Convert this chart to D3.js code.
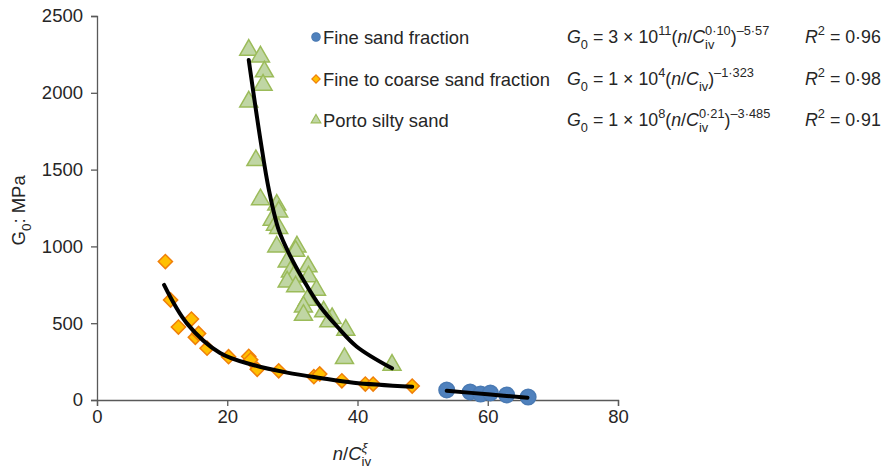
<!DOCTYPE html>
<html>
<head>
<meta charset="utf-8">
<script src="https://cdn.jsdelivr.net/npm/d3@7"></script>
<style>
  body { margin: 0; background: #fff; }
  text { font-family: "Liberation Sans", Arial, sans-serif; fill: #262626; }
</style>
</head>
<body>
<div id="chart"></div>
<script>
// values: [n/Civ^xi, G0 (MPa)]
let fineSand = [[53.7, 65], [57.3, 52], [58.9, 39], [60.4, 46], [62.9, 33], [66.2, 20]];
let fineCoarse = [
  [10.5, 901], [11.3, 651], [12.5, 475], [14.5, 527], [15.1, 408], [15.6, 433],
  [16.9, 337], [20.2, 282], [23.3, 284], [23.6, 262], [24.6, 200], [27.9, 190],
  [33.3, 152], [34.2, 170], [37.6, 125], [41.2, 104], [42.4, 104], [48.4, 91]
];
let porto = [
  [23.3, 2279], [25.1, 2235], [25.7, 2138], [25.5, 2051], [23.3, 1942], [24.4, 1560],
  [25.1, 1305], [27.6, 1270], [27.9, 1226], [26.9, 1172], [27.4, 1139], [27.9, 1118],
  [27.6, 998], [30.7, 998], [30.5, 970], [29.2, 900], [32.4, 868], [29.7, 835],
  [30.2, 803], [32.5, 803], [29.2, 770], [30.5, 738], [33.7, 716], [32.3, 651],
  [31.7, 607], [31.7, 553], [34.8, 575], [36.1, 532], [35.6, 510], [38.2, 456],
  [38.0, 271], [45.3, 228]
];
// fitted trend lines
let fineSandFit = [[53.7, 60], [60.0, 37], [66.1, 15]];
let fineCoarseFit = [[10.3, 749], [13.8, 499], [18.9, 306], [24.0, 228], [29.2, 178], [34.3, 143], [39.4, 113], [48.4, 87]];
let portoFit = [[23.3, 2214], [25.1, 1693], [26.4, 1367], [27.9, 1107], [29.7, 935], [31.7, 781], [34.3, 607], [36.9, 477], [39.9, 347], [45.3, 206]];

let xTicks = [0, 20, 40, 60, 80];
let yTicks = [0, 500, 1000, 1500, 2000, 2500];
let seriesNames = ["Fine sand fraction", "Fine to coarse sand fraction", "Porto silty sand"];
let r2 = ["0·96", "0·98", "0·91"];

let width = 885, height = 475;
let margin = { top: 16, right: 267, bottom: 75, left: 97 };

let svg = d3.select("#chart").append("svg")
  .attr("width", width).attr("height", height);

let x = d3.scaleLinear().domain([0, 80]).range([margin.left, width - margin.right]);
let y = d3.scaleLinear().domain([0, 2500]).range([height - margin.bottom, margin.top]);

let axisColor = "#595959";
let fontSize = 18.5;

// axes
let xAxis = svg.append("g")
  .attr("transform", `translate(0,${y(0)})`)
  .call(d3.axisBottom(x).tickValues(xTicks).tickFormat(d3.format("d")).tickSize(6).tickPadding(4));
let yAxis = svg.append("g")
  .attr("transform", `translate(${x(0)},0)`)
  .call(d3.axisLeft(y).tickValues(yTicks).tickFormat(d3.format("d")).tickSize(6).tickPadding(8));
[xAxis, yAxis].forEach((g) => {
  g.select(".domain").attr("stroke", axisColor).attr("stroke-width", 1.3);
  g.selectAll(".tick line").attr("stroke", axisColor).attr("stroke-width", 1.3);
  g.selectAll(".tick text").attr("font-size", fontSize)
    .attr("font-family", "Liberation Sans, Arial, sans-serif").attr("fill", "#262626");
});

// styles per series
let styles = [
  { fill: "#4f81bd", stroke: "#4a7ab3", sym: d3.symbolCircle, size: 190, rot: 0 },
  { fill: "#ffc000", stroke: "#f07f09", sym: d3.symbolSquare, size: 100, rot: 45 },
  { fill: "#c0d6a4", stroke: "#9bbb59", sym: d3.symbolTriangle, size: 140, rot: 0 },
];

let line = d3.line().x((d) => x(d[0])).y((d) => y(d[1])).curve(d3.curveCatmullRom);

[fineSand, fineCoarse, porto].forEach((data, k) => {
  let st = styles[k];
  svg.append("g").selectAll("path")
    .data(data).enter().append("path")
    .attr("d", d3.symbol().type(st.sym).size(st.size))
    .attr("transform", (d) => `translate(${x(d[0])},${y(d[1])}) rotate(${st.rot})`)
    .attr("fill", st.fill)
    .attr("stroke", st.stroke)
    .attr("stroke-width", 1.5);
});

[fineSandFit, fineCoarseFit, portoFit].forEach((data) => {
  svg.append("path")
    .datum(data)
    .attr("d", line)
    .attr("fill", "none")
    .attr("stroke", "#000")
    .attr("stroke-width", 4)
    .attr("stroke-linecap", "round");
});

// legend
let legendY = [37, 79, 120];
seriesNames.forEach((name, k) => {
  let st = styles[k];
  svg.append("path")
    .attr("d", d3.symbol().type(st.sym).size(k == 0 ? 55 : k == 1 ? 34 : 40))
    .attr("transform", `translate(316,${legendY[k]}) rotate(${st.rot})`)
    .attr("fill", st.fill).attr("stroke", st.stroke).attr("stroke-width", 1.2);
  svg.append("text")
    .attr("x", 323).attr("y", legendY[k] + 6.5)
    .attr("font-size", 18.4)
    .text(name);
});

// rich text laid out piece by piece: t text, i italic, s "sup"/"sub", st stack with next piece
function richText(parent, x0, y0, parts, size, anchor) {
  let g = parent.append("g");
  let cx = 0, stackW = 0;
  parts.forEach((p) => {
    let small = p.s ? size * 0.72 : size;
    let dy = p.s == "sup" ? -size * 0.45 : p.s == "sub" ? size * 0.33 : 0;
    let t = g.append("text")
      .attr("x", cx).attr("y", dy)
      .attr("font-size", small)
      .attr("font-style", p.i ? "italic" : "normal")
      .attr("xml:space", "preserve")
      .text(p.t);
    let w = t.node().getComputedTextLength();
    if (p.st) {
      stackW = w;
    } else {
      cx += Math.max(w, stackW);
      stackW = 0;
    }
  });
  let shift = anchor == "middle" ? -cx / 2 : 0;
  g.attr("transform", `translate(${x0 + shift},${y0})`);
  return g;
}

let eqSize = 17.8;
let eqs = [
  [{ t: "G", i: 1 }, { t: "0", s: "sub" }, { t: " = 3 × 10" }, { t: "11", s: "sup" }, { t: "(" },
   { t: "n", i: 1 }, { t: "/" }, { t: "C", i: 1 }, { t: "0·10", s: "sup", st: 1 }, { t: "iv", s: "sub" },
   { t: ")" }, { t: "–5·57", s: "sup" }],
  [{ t: "G", i: 1 }, { t: "0", s: "sub" }, { t: " = 1 × 10" }, { t: "4", s: "sup" }, { t: "(" },
   { t: "n", i: 1 }, { t: "/" }, { t: "C", i: 1 }, { t: "iv", s: "sub" },
   { t: ")" }, { t: "–1·323", s: "sup" }],
  [{ t: "G", i: 1 }, { t: "0", s: "sub" }, { t: " = 1 × 10" }, { t: "8", s: "sup" }, { t: "(" },
   { t: "n", i: 1 }, { t: "/" }, { t: "C", i: 1 }, { t: "0·21", s: "sup", st: 1 }, { t: "iv", s: "sub" },
   { t: ")" }, { t: "–3·485", s: "sup" }],
];
eqs.forEach((parts, k) => {
  richText(svg, 567, legendY[k] + 6, parts, eqSize);
  richText(svg, 805, legendY[k] + 6,
    [{ t: "R", i: 1 }, { t: "2", s: "sup" }, { t: " = " + r2[k] }], eqSize);
});

// axis titles
richText(svg, 352, 460,
  [{ t: "n", i: 1 }, { t: "/" }, { t: "C", i: 1 }, { t: "ξ", s: "sup", i: 1, st: 1 }, { t: "iv", s: "sub" }],
  fontSize, "middle");

let yTitle = richText(svg, 0, 0,
  [{ t: "G" }, { t: "0", s: "sub" }, { t: ": MPa" }], fontSize);
let yBox = yTitle.node().getBBox();
yTitle.attr("transform", `translate(25,${210 + yBox.width / 2}) rotate(-90)`);
</script>
</body>
</html>
